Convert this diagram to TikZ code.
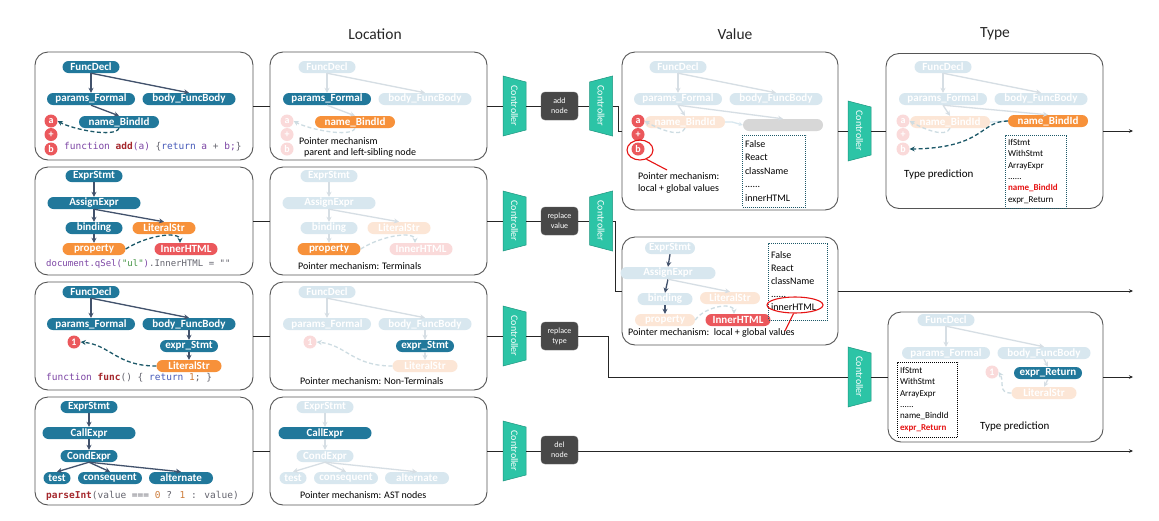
\documentclass[tikz,border=0pt]{standalone}
\usepackage{fontspec}
\setmainfont{Carlito}
\newfontfamily\codef{DejaVu Sans Mono}
\usetikzlibrary{arrows.meta,shapes.geometric}

\definecolor{nblue}{RGB}{33,120,155}
\definecolor{fblue}{RGB}{216,231,239}
\definecolor{norange}{RGB}{247,145,58}
\definecolor{forange}{RGB}{252,230,214}
\definecolor{nred}{RGB}{235,88,92}
\definecolor{fred}{RGB}{250,218,218}
\definecolor{gbar}{RGB}{215,215,215}
\definecolor{arrc}{RGB}{66,82,108}
\definecolor{farrc}{RGB}{214,222,228}
\definecolor{dashc}{RGB}{28,88,104}
\definecolor{fdashc}{RGB}{205,220,226}
\definecolor{ctrlc}{RGB}{44,196,166}
\definecolor{ctrld}{RGB}{30,150,128}
\definecolor{opc}{RGB}{72,72,72}
\definecolor{boxc}{RGB}{85,85,85}
\definecolor{cpur}{RGB}{125,70,165}
\definecolor{cdred}{RGB}{165,40,45}
\definecolor{cblu}{RGB}{70,90,185}
\definecolor{cgrn}{RGB}{70,150,70}
\definecolor{corg}{RGB}{205,125,60}
\definecolor{cgry}{RGB}{100,100,110}
\definecolor{hired}{RGB}{230,20,20}

\tikzset{
 nd/.style={rounded corners=6pt, minimum height=12pt, inner sep=0pt, text=white, font=\fontsize{11}{11}\selectfont\bfseries},
 nBlue/.style={nd, fill=nblue}, nBlueF/.style={nd, fill=fblue},
 nOr/.style={nd, fill=norange}, nOrF/.style={nd, fill=forange},
 nRed/.style={nd, fill=nred}, nRedF/.style={nd, fill=fred},
 nGray/.style={nd, fill=gbar},
 cRed/.style={circle, fill=nred, text=white, minimum size=13pt, inner sep=0pt, font=\fontsize{10}{10}\selectfont\bfseries},
 cRedF/.style={cRed, fill=fred},
 arw/.style={draw=arrc, line width=1.3pt, -{Stealth[length=5pt,width=5pt]}},
 farw/.style={draw=farrc, line width=1.3pt, -{Stealth[length=5pt,width=5pt]}},
 dsh/.style={draw=dashc, line width=1.3pt, dash pattern=on 4pt off 2.5pt, -{Stealth[length=5pt,width=5pt]}},
 fdsh/.style={dsh, draw=fdashc},
 s1/.style={nBlue}, s2/.style={nBlue}, s3/.style={nBlue}, s4/.style={nBlue}, s5/.style={nBlue}, s6/.style={nBlue},
 sC/.style={cRed}, sA/.style={arw}, sD/.style={dsh},
 bigbox/.style={draw=boxc, line width=0.9pt, rounded corners=13pt, inner sep=0pt},
 ln/.style={draw=black!85, line width=0.8pt},
 lnar/.style={ln, -{Stealth[length=4pt,width=3.5pt]}},
 opbox/.style={fill=opc, draw=black!60, rounded corners=4pt, minimum width=37pt, minimum height=28pt, inner sep=0pt, text=white, align=center, font=\fontsize{8}{10}\selectfont},
 ctrlshape/.style={fill=ctrlc, draw=ctrld, line width=0.5pt},
 ctrltxt/.style={minimum width=23pt, minimum height=48pt, inner sep=0pt, text=white, font=\fontsize{10}{10}\selectfont},
 hdr/.style={font=\fontsize{15.5}{16}\selectfont, text=black!85},
 ptxt/.style={anchor=west, inner sep=0pt, font=\fontsize{10}{12}\selectfont, align=left},
 codet/.style={anchor=west, inner sep=0pt, font=\codef\fontsize{9.5}{10}\selectfont},
 lst/.style={line width=1pt, dash pattern=on 1pt off 1pt, inner ysep=2pt, inner xsep=2.5pt, align=left, text=black},
 redmark/.style={draw=hired, line width=1.1pt},
}

\newcommand\TreeA[2]{%
 \node[s1, minimum width=57pt] (#1fd) at (0,0) {FuncDecl};
 \node[s2, minimum width=88pt] (#1pf) at (0,32) {params\_Formal};
 \node[s3, minimum width=93pt] (#1bf) at (98,32) {body\_FuncBody};
 \node[s4, minimum width=80pt] (#1nb) at (#2,55) {name\_BindId};
 \node[sC] (#1a) at (-40,54) {a};
 \node[sC] (#1p) at (-40,67.5) {+};
 \node[sC] (#1b) at (-40,82) {b};
 \draw[sA] (#1fd.south) -- (#1pf.north);
 \draw[sA] (#1fd.south) -- (#1bf.north);
 \draw[sA] (#1pf.south) -- (#1nb.north);
 \draw[sD] (#1nb.south) .. controls +(-4,10) and +(14,8) .. (#1a.east);
}
\newcommand\TreeB[1]{%
 \node[s1, minimum width=57pt] (#1es) at (0,0) {ExprStmt};
 \node[s2, minimum width=93pt] (#1ae) at (0,27) {AssignExpr};
 \node[s3, minimum width=57pt] (#1bi) at (0,52) {binding};
 \node[s4, minimum width=63pt] (#1ls) at (70,52) {LiteralStr};
 \node[s5, minimum width=63pt] (#1pr) at (0,73) {property};
 \node[s6, minimum width=63pt] (#1ih) at (92,73) {InnerHTML};
 \draw[sA] (#1es.south) -- (#1ae.north);
 \draw[sA] (#1ae.south) -- (#1bi.north);
 \draw[sA] (#1ae.south) -- (#1ls.north);
 \draw[sA] (#1bi.south) -- (#1pr.north);
 \draw[sD] (#1pr.east) .. controls +(22,-14) and +(0,-12) .. ([xshift=-6pt]#1ih.north);
}
\newcommand\TreeC[1]{%
 \node[s1, minimum width=57pt] (#1fd) at (0,0) {FuncDecl};
 \node[s2, minimum width=88pt] (#1pf) at (0,32) {params\_Formal};
 \node[s3, minimum width=93pt] (#1bf) at (98,32) {body\_FuncBody};
 \node[s4, minimum width=58pt] (#1es) at (98,54) {expr\_Stmt};
 \node[s5, minimum width=65pt] (#1ls) at (98,74) {LiteralStr};
 \node[sC] (#1one) at (-17,50) {1};
 \draw[sA] (#1fd.south) -- (#1pf.north);
 \draw[sA] (#1fd.south) -- (#1bf.north);
 \draw[sA] (#1bf.south) -- (#1es.north);
 \draw[sA] (#1es.south) -- (#1ls.north);
 \draw[sD] (#1ls.west) .. controls +(-40,0) and +(30,3) .. (#1one.east);
}
\newcommand\TreeD[1]{%
 \node[s1, minimum width=57pt] (#1es) at (0,0) {ExprStmt};
 \node[s2, minimum width=93pt] (#1ce) at (0,26) {CallExpr};
 \node[s3, minimum width=57pt] (#1cd) at (0,49) {CondExpr};
 \node[s4, minimum width=27pt] (#1te) at (-32,71) {test};
 \node[s4, minimum width=64pt] (#1co) at (21,71) {consequent};
 \node[s4, minimum width=64pt] (#1al) at (92,71) {alternate};
 \draw[sA] (#1es.south) -- (#1ce.north);
 \draw[sA] (#1ce.south) -- (#1cd.north);
 \draw[sA] (#1cd.south) -- (#1te.north);
 \draw[sA] (#1cd.south) -- (#1co.north);
 \draw[sA] (#1cd.south) -- (#1al.north);
}
\newcommand\ctrlN[3]{%
 \filldraw[ctrlshape] (#2-11.5,#3-30) -- (#2+11.5,#3-24) -- (#2+11.5,#3+24) -- (#2-11.5,#3+30) -- cycle;
 \node[ctrltxt] (#1) at (#2,#3) {\rotatebox{-90}{Controller}};}
\newcommand\ctrlW[3]{%
 \filldraw[ctrlshape] (#2-11.5,#3-24) -- (#2+11.5,#3-30) -- (#2+11.5,#3+30) -- (#2-11.5,#3+24) -- cycle;
 \node[ctrltxt] (#1) at (#2,#3) {\rotatebox{-90}{Controller}};}

\begin{document}
\begin{tikzpicture}[x=1pt,y=-1pt]
\useasboundingbox[fill=white] (0,0) rectangle (1159,520);

% headers
\node[hdr] (hL) at (375,34) {Location};
\node[hdr] (hV) at (735,34) {Value};
\node[hdr] (hT) at (995,34) {Type};

% big boxes
\node[bigbox, minimum width=218pt, minimum height=108pt] (L1) at (144,106) {};
\node[bigbox, minimum width=218pt, minimum height=108pt] (L2) at (144,221) {};
\node[bigbox, minimum width=218pt, minimum height=108pt] (L3) at (144,336) {};
\node[bigbox, minimum width=218pt, minimum height=108pt] (L4) at (144,451) {};
\node[bigbox, minimum width=217pt, minimum height=108pt] (P1) at (378.5,106) {};
\node[bigbox, minimum width=217pt, minimum height=108pt] (P2) at (378.5,221) {};
\node[bigbox, minimum width=217pt, minimum height=108pt] (P3) at (378.5,336) {};
\node[bigbox, minimum width=217pt, minimum height=108pt] (P4) at (378.5,451) {};
\node[bigbox, minimum width=216pt, minimum height=158pt] (V1) at (730,131) {};
\node[bigbox, minimum width=216pt, minimum height=108pt] (V2) at (730,291) {};
\node[bigbox, minimum width=217pt, minimum height=155pt] (T1) at (994.5,131) {};
\node[bigbox, minimum width=215pt, minimum height=130pt] (T2) at (995.5,377) {};

% ---------- left column ----------
\begin{scope}[shift={(91,67)}]
 \TreeA{ka}{28}
\end{scope}
\node[codet] (code1) at (64,147) {\textcolor{cpur}{function} \textcolor{cdred}{\textbf{add}}\textcolor{cpur}{(a)} \textcolor{cgry}{\{}\textcolor{cblu}{return} \textcolor{cpur}{a} \textcolor{cgry}{+} \textcolor{cpur}{b;}\textcolor{cgry}{\}}};

\begin{scope}[shift={(94,176)}]
 \tikzset{s4/.style={nOr}, s5/.style={nOr}, s6/.style={nRed}}
 \TreeB{kb}
\end{scope}
\node[codet, font=\codef\fontsize{9}{10}\selectfont] (code2) at (46,264) {\textcolor{cpur}{document.qSel(}\textcolor{cgrn}{"ul"}\textcolor{cpur}{)}\textcolor{cgry}{.InnerHTML} \textcolor{cgry}{=} \textcolor{cgry}{""}};

\begin{scope}[shift={(91,292)}]
 \tikzset{s5/.style={nOr}}
 \TreeC{kc}
\end{scope}
\node[codet] (code3) at (46,378) {\textcolor{cpur}{function} \textcolor{cdred}{\textbf{func}}\textcolor{cgry}{()} \textcolor{cgry}{\{} \textcolor{cblu}{return} \textcolor{corg}{1}\textcolor{cgry}{;} \textcolor{cgry}{\}}};

\begin{scope}[shift={(89,407)}]
 \TreeD{kd}
\end{scope}
\node[codet] (code4) at (46,496) {\textcolor{cdred}{\textbf{parseInt}}\textcolor{cgry}{(value} \textcolor{cgry}{===} \textcolor{corg}{0} \textcolor{cgry}{?} \textcolor{corg}{1} \textcolor{cgry}{:} \textcolor{cgry}{value)}};

% ---------- location column ----------
\begin{scope}[shift={(327,67)}]
 \tikzset{s1/.style={nBlueF}, s3/.style={nBlueF}, s4/.style={nOr}, sC/.style={cRedF}, sA/.style={farw}, sD/.style={fdsh}}
 \TreeA{la}{28}
\end{scope}
\node[ptxt] (pa1) at (299,141) {Pointer mechanism};
\node[ptxt] (pa2) at (304,153) {parent and left-sibling node};

\begin{scope}[shift={(329,176)}]
 \tikzset{s1/.style={nBlueF}, s2/.style={nBlueF}, s3/.style={nBlueF}, s4/.style={nOrF}, s5/.style={nOr}, s6/.style={nRedF}, sA/.style={farw}, sD/.style={fdsh}}
 \TreeB{lb}
\end{scope}
\node[ptxt] (pb) at (298,266) {Pointer mechanism: Terminals};

\begin{scope}[shift={(327,292)}]
 \tikzset{s1/.style={nBlueF}, s2/.style={nBlueF}, s3/.style={nBlueF}, s4/.style={nBlue}, s5/.style={nOrF}, sC/.style={cRedF}, sA/.style={farw}, sD/.style={fdsh}}
 \TreeC{lc}
\end{scope}
\node[ptxt] (pc) at (300,381) {Pointer mechanism: Non-Terminals};

\begin{scope}[shift={(325,407)}]
 \tikzset{s1/.style={nBlueF}, s2/.style={nBlue}, s3/.style={nBlueF}, s4/.style={nBlueF}, sA/.style={farw}}
 \TreeD{ld}
\end{scope}
\node[ptxt] (pd) at (300,495) {Pointer mechanism: AST nodes};

% ---------- value box 1 ----------
\begin{scope}[shift={(678,67)}]
 \tikzset{s1/.style={nBlueF}, s2/.style={nBlueF}, s3/.style={nBlueF}, s4/.style={nOrF}, sA/.style={farw}, sD/.style={fdsh}}
 \TreeA{va}{7}
 \node[nGray, minimum width=80pt] (vg) at (105,58) {};
 \draw[farw] (vapf.south) -- (vg.north);
 \draw[draw=fblue, line width=1.3pt, -{Stealth[length=4pt,width=4pt]}] (vanb.east) -- ++(7,0) -- (vg.west);
\end{scope}
\node[ellipse, redmark, minimum width=26pt, minimum height=20pt, inner sep=0pt] (eb) at (640,150) {};
\coordinate (eb2) at (667,170);
\draw[redmark] (eb.-55) -- (eb2);
\node[ptxt, anchor=north west] (pv1) at (638,172) {Pointer mechanism:\\local + global values};
\node[lst, draw=dashc, text width=58pt, minimum height=72pt, font=\fontsize{10}{13.5}\selectfont] (vl1) at (774,171) {False\\React\\className\\......\\innerHTML};

% ---------- value box 2 ----------
\node[nBlueF, minimum width=50pt] (wes) at (670,248) {ExprStmt};
\node[nBlueF, minimum width=95pt] (wae) at (668,273) {AssignExpr};
\node[nBlueF, minimum width=55pt] (wbi) at (665,299) {binding};
\node[nOrF, minimum width=60pt] (wls) at (730,298) {LiteralStr};
\node[nOrF, minimum width=60pt] (wpr) at (665,320) {property};
\node[nRed, minimum width=65pt] (wih) at (738,320) {InnerHTML};
\draw[arw] (wes.south) -- (wae.north);
\draw[arw] (wae.south) -- (wbi.north);
\draw[arw] (wbi.south) -- (wpr.north);
\draw[farw] (wae.south) -- (wls.north);
\draw[fdsh] (wpr.east) .. controls +(10,-14) and +(0,-12) .. ([xshift=-4pt]wih.north);
\node[ptxt] (pv2) at (628,333) {Pointer mechanism:\, local + global values};
\node[lst, draw=dashc, text width=54pt, minimum height=77pt, font=\fontsize{10}{13}\selectfont] (vl2) at (798,281.5) {False\\React\\className\\......\\innerHTML};
\node[ellipse, redmark, minimum width=56pt, minimum height=16pt, inner sep=0pt] (ei) at (795,305) {};
\coordinate (ei2) at (785,331);
\draw[redmark] (ei.-100) -- (ei2);

% ---------- type box 1 ----------
\begin{scope}[shift={(943,67)}]
 \tikzset{s1/.style={nBlueF}, s2/.style={nBlueF}, s3/.style={nBlueF}, s4/.style={nOrF}, sC/.style={cRedF}, sA/.style={farw}, sD/.style={fdsh}}
 \TreeA{ta}{7}
 \node[nOr, minimum width=80pt] (tnb) at (105,54) {name\_BindId};
 \draw[farw] (tapf.south) -- (tnb.north);
 \draw[draw=fblue, line width=1.3pt] (tanb.east) -- (tnb.west);
 \draw[dsh] (tnb.west) .. controls +(-28,0) and +(75,-1) .. (tab.east);
\end{scope}
\node[ptxt, font=\fontsize{11}{12}\selectfont] (tp1) at (904,175) {Type prediction};
\node[lst, draw=dashc, text width=56pt, minimum height=73pt, font=\fontsize{9}{11.4}\selectfont] (tl1) at (1036,171.5) {IfStmt\\WithStmt\\ArrayExpr\\......\\\textcolor{hired}{\textbf{name\_BindId}}\\expr\_Return};

% ---------- type box 2 ----------
\node[nBlueF, minimum width=57pt] (ufd) at (946,320) {FuncDecl};
\node[nBlueF, minimum width=88pt] (upf) at (946,353) {params\_Formal};
\node[nBlueF, minimum width=93pt] (ubf) at (1044,353) {body\_FuncBody};
\node[nBlue, minimum width=68pt] (uer) at (1048,373) {expr\_Return};
\node[nOrF, minimum width=65pt] (uls) at (1044,393) {LiteralStr};
\node[cRedF] (uone) at (992,372) {1};
\draw[farw] (ufd.south) -- (upf.north);
\draw[farw] (ufd.south) -- (ubf.north);
\draw[farw] (ubf.south) -- (uer.north);
\draw[farw] (uer.south) -- (uls.north);
\draw[fdsh] (uls.west) .. controls +(-14,0) and +(6,10) .. (uone.east);
\node[ptxt, font=\fontsize{11}{12}\selectfont] (tp2) at (980,427) {Type prediction};
\node[lst, draw=black, text width=55pt, minimum height=75pt, font=\fontsize{9}{11.4}\selectfont] (tl2) at (927.5,399.5) {IfStmt\\WithStmt\\ArrayExpr\\......\\name\_BindId\\\textcolor{hired}{\textbf{expr\_Return}}};

% ---------- controllers and ops ----------
\ctrlN{C11}{514.5}{106}
\ctrlW{C12}{601}{106}
\ctrlN{C21}{514.5}{221}
\ctrlW{C22}{601}{221}
\ctrlN{C31}{514.5}{336}
\ctrlN{C41}{514.5}{451}
\ctrlN{TC1}{859.5}{131}
\ctrlN{TC2}{859.5}{377}
\node[opbox] (op1) at (559.5,106) {add\\node};
\node[opbox] (op2) at (559.5,221) {replace\\value};
\node[opbox] (op3) at (559.5,336) {replace\\type};
\node[opbox] (op4) at (559.5,450) {del\\node};

% ---------- connectors ----------
\coordinate (k1) at (618,106);
\coordinate (k2) at (615,221);
\coordinate (k3) at (608,336);
\coordinate (e1) at (1133,131);
\coordinate (e2) at (1133,291);
\coordinate (e3) at (1133,377);
\coordinate (e4) at (1133,451);

\draw[ln] (L1.east) -- (P1.west);
\draw[ln] (P1.east) -- (C11.west);
\draw[ln] (C11.east) -- (op1.west);
\draw[ln] (op1.east) -- (C12.west);
\draw[ln] (C12.east) -- (k1) |- (V1.west);
\draw[ln] (V1.east) -- (TC1.west);
\draw[ln] (TC1.east) -- (T1.west);
\draw[lnar] (T1.east) -- (e1);

\draw[ln] (L2.east) -- (P2.west);
\draw[ln] (P2.east) -- (C21.west);
\draw[ln] (C21.east) -- (op2.west);
\draw[ln] (op2.east) -- (C22.west);
\draw[ln] (C22.east) -- (k2) |- (V2.west);
\draw[lnar] (V2.east) -- (e2);

\draw[ln] (L3.east) -- (P3.west);
\draw[ln] (P3.east) -- (C31.west);
\draw[ln] (C31.east) -- (op3.west);
\draw[ln] (op3.east) -- (k3) |- (TC2.west);
\draw[ln] (TC2.east) -- (T2.west);
\draw[lnar] (T2.east) -- (e3);

\draw[ln] (L4.east) -- (P4.west);
\draw[ln] (P4.east) -- (C41.west);
\draw[ln] (C41.east) -- (op4.west |- C41.east);
\draw[lnar] (op4.east |- C41.east) -- (e4);
\end{tikzpicture}
\end{document}
